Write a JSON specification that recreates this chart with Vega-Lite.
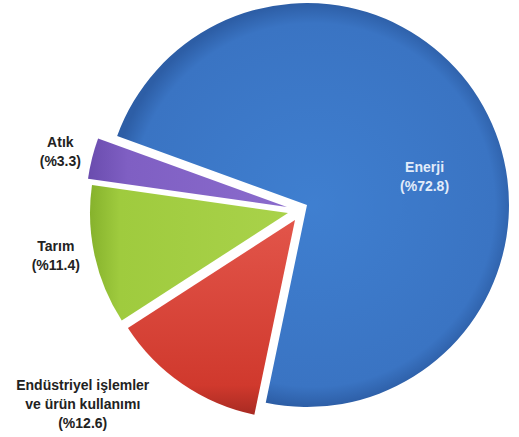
{
  "$schema": "https://vega.github.io/schema/vega-lite/v6.json",
  "width": 438,
  "height": 414,
  "autosize": "none",
  "padding": {"left": 81, "right": 0, "top": 0, "bottom": 23},
  "background": "#ffffff",
  "view": {"stroke": null},
  "data": {
    "values": [
      {"cat": "Enerji", "ord": 1, "value": 72.8, "label": "Enerji\n(%72.8)"},
      {"cat": "Endüstriyel", "ord": 2, "value": 12.6, "label": "Endüstriyel işlemler\nve ürün kullanımı\n(%12.6)"},
      {"cat": "Tarım", "ord": 3, "value": 11.4, "label": "Tarım\n(%11.4)"},
      {"cat": "Atık", "ord": 4, "value": 3.3, "label": "Atık\n(%3.3)"}
    ]
  },
  "encoding": {
    "theta": {"field": "value", "type": "quantitative", "stack": true, "scale": {"range": [5.061, 11.344]}},
    "order": {"field": "ord", "type": "quantitative"}
  },
  "layer": [
    {
      "mark": {"type": "arc", "outerRadius": 202, "xOffset": 7, "yOffset": -2,
        "fill": {"gradient": "radial", "x1": 0.5, "y1": 0.5, "r1": 0, "x2": 0.5, "y2": 0.5, "r2": 0.5,
          "stops": [{"offset": 0, "color": "#3f7fd0"}, {"offset": 0.9, "color": "#3a74c3"}, {"offset": 1, "color": "#2d5ea6"}]}},
      "encoding": {"fillOpacity": {"condition": {"test": "datum.cat === 'Enerji'", "value": 1}, "value": 0}}
    },
    {
      "mark": {"type": "arc", "outerRadius": 199, "xOffset": -5, "yOffset": 13,
        "fill": {"gradient": "linear", "x1": 0, "y1": 0, "x2": 0, "y2": 1,
          "stops": [{"offset": 0, "color": "#e2554a"}, {"offset": 0.85, "color": "#d0392d"}, {"offset": 1, "color": "#a82a22"}]}},
      "encoding": {"fillOpacity": {"condition": {"test": "datum.cat === 'Endüstriyel'", "value": 1}, "value": 0}}
    },
    {
      "mark": {"type": "arc", "outerRadius": 198, "xOffset": -12, "yOffset": 6,
        "fill": {"gradient": "linear", "x1": 0, "y1": 0, "x2": 1, "y2": 0,
          "stops": [{"offset": 0, "color": "#86b22c"}, {"offset": 0.15, "color": "#9fcb3e"}, {"offset": 1, "color": "#a9d24a"}]}},
      "encoding": {"fillOpacity": {"condition": {"test": "datum.cat === 'Tarım'", "value": 1}, "value": 0}}
    },
    {
      "mark": {"type": "arc", "outerRadius": 201, "xOffset": -13, "yOffset": 0,
        "fill": {"gradient": "linear", "x1": 0, "y1": 0, "x2": 1, "y2": 0,
          "stops": [{"offset": 0, "color": "#6a4cae"}, {"offset": 0.2, "color": "#7f5fc3"}, {"offset": 1, "color": "#8a6bcc"}]}},
      "encoding": {"fillOpacity": {"condition": {"test": "datum.cat === 'Atık'", "value": 1}, "value": 0}}
    },
    {
      "mark": {"type": "text", "radius": 130, "dx": 11, "dy": 24, "font": "Liberation Sans", "fontWeight": "bold", "fontSize": 14, "lineHeight": 19, "lineBreak": "\n", "fill": "#e2ecfa", "align": "center", "baseline": "middle"},
      "encoding": {"text": {"condition": {"test": "datum.cat === 'Enerji'", "field": "label"}, "value": ""}}
    },
    {
      "mark": {"type": "text", "radius": 294, "dx": -51, "dy": -63, "font": "Liberation Sans", "fontWeight": "bold", "fontSize": 14, "lineHeight": 19, "lineBreak": "\n", "fill": "#222222", "align": "center", "baseline": "middle"},
      "encoding": {"text": {"condition": {"test": "datum.cat === 'Endüstriyel'", "field": "label"}, "value": ""}}
    },
    {
      "mark": {"type": "text", "radius": 249, "dx": -1, "dy": -13, "font": "Liberation Sans", "fontWeight": "bold", "fontSize": 14, "lineHeight": 19, "lineBreak": "\n", "fill": "#222222", "align": "center", "baseline": "middle"},
      "encoding": {"text": {"condition": {"test": "datum.cat === 'Tarım'", "field": "label"}, "value": ""}}
    },
    {
      "mark": {"type": "text", "radius": 246, "dx": -1, "dy": -4, "font": "Liberation Sans", "fontWeight": "bold", "fontSize": 14, "lineHeight": 19, "lineBreak": "\n", "fill": "#222222", "align": "center", "baseline": "middle"},
      "encoding": {"text": {"condition": {"test": "datum.cat === 'Atık'", "field": "label"}, "value": ""}}
    }
  ]
}
